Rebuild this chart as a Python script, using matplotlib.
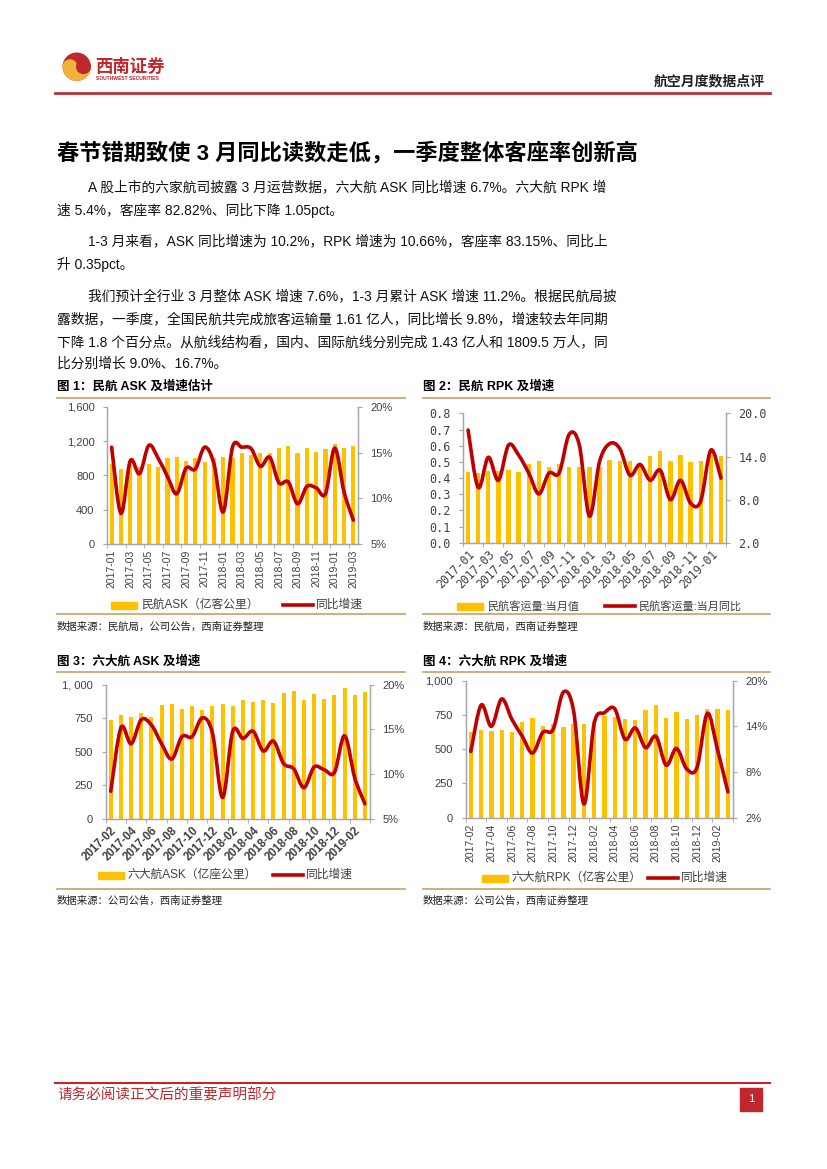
import matplotlib.pyplot as plt
import numpy as np
import pandas as pd
from matplotlib.path import Path
from matplotlib.patches import PathPatch, Rectangle, Circle, Wedge
from matplotlib.lines import Line2D

plt.rcParams['font.family'] = ['Liberation Sans', 'Noto Sans CJK SC']
CJK = ['Liberation Sans', 'Noto Sans CJK SC']
MONO = ['DejaVu Sans Mono', 'Noto Sans CJK SC']

# ---- data ----
months1 = list(pd.period_range('2017-01', '2019-03', freq='M').strftime('%Y-%m'))
ask1 = [931, 873, 935, 900, 931, 900, 1005, 1020, 974, 1005, 962, 1000, 1013, 1000,
        1059, 1040, 1059, 1060, 1121, 1140, 1067, 1117, 1071, 1106, 1172, 1117, 1140]
ask1_yoy = [15.6, 8.35, 14.1, 12.7, 15.8, 14.4, 12.4, 10.5, 13.3, 13.2, 15.6, 13.8, 8.5,
            15.6, 15.6, 15.45, 13.5, 14.5, 11.7, 11.8, 9.4, 11.3, 11.15, 10.5, 15.5, 10.7, 7.6]

months2 = list(pd.period_range('2017-01', '2019-02', freq='M').strftime('%Y-%m'))
rpk2 = [0.439, 0.429, 0.443, 0.443, 0.45, 0.437, 0.487, 0.505, 0.466, 0.487, 0.466, 0.466, 0.466,
        0.47, 0.515, 0.505, 0.503, 0.49, 0.538, 0.567, 0.505, 0.542, 0.501, 0.503, 0.545, 0.538]
rpk2_yoy = [17.7, 9.7, 13.9, 10.7, 15.6, 14.2, 11.7, 8.8, 11.7, 11.7, 17.1, 15.6, 5.7,
            13.3, 15.8, 15.1, 11.4, 12.9, 10.7, 12.1, 8.0, 10.7, 7.5, 7.8, 14.9, 11.0]

months3 = list(pd.period_range('2017-02', '2019-03', freq='M').strftime('%Y-%m'))
ask3 = [739, 776, 761, 789, 761, 848, 858, 818, 843, 808, 838, 856, 841,
        886, 873, 888, 866, 940, 953, 888, 933, 893, 925, 975, 925, 945]
ask3_yoy = [8.1, 15.2, 13.4, 16.1, 15.5, 13.4, 11.7, 14.2, 14.2, 16.3, 14.6, 7.4, 14.8,
            14.0, 14.8, 12.6, 13.7, 11.2, 10.6, 8.5, 10.8, 10.5, 10.2, 14.3, 9.6, 6.7]

rpk4 = [625, 637, 632, 640, 627, 701, 726, 667, 686, 662, 684, 686, 709,
        741, 735, 721, 716, 783, 820, 728, 770, 719, 746, 790, 790, 783]
rpk4_yoy = [10.7, 16.8, 14.0, 17.6, 14.9, 12.7, 10.5, 13.2, 13.6, 18.5, 16.0, 3.8, 14.4,
            15.8, 16.3, 12.3, 13.8, 11.2, 12.7, 8.9, 11.1, 8.4, 8.6, 15.7, 10.9, 5.4]

BAR = '#FFC000'
LINE = '#C00000'
GREY = '#A6A6A6'
TXT = '#404040'
RED = '#C0272D'
TAN = '#C9A063'

W, H = 827, 1169
fig = plt.figure(figsize=(W / 100, H / 100), dpi=100)


def box(x0, y0, x1, y1):
    return [x0 / W, 1 - y1 / H, (x1 - x0) / W, (y1 - y0) / H]


def fx(x):
    return x / W


def fy(y):
    return 1 - y / H


def hline(x0, x1, y, color, lw):
    fig.add_artist(Line2D([fx(x0), fx(x1)], [fy(y), fy(y)], color=color, lw=lw))


def smooth(ax, x, y, color, lw):
    # excel style smoothed line (catmull-rom as bezier)
    x = np.asarray(x, float)
    y = np.asarray(y, float)
    n = len(x)
    verts = [(x[0], y[0])]
    codes = [Path.MOVETO]
    for i in range(n - 1):
        a, b = max(i - 1, 0), min(i + 2, n - 1)
        c1 = (x[i] + (x[i + 1] - x[a]) / 6, y[i] + (y[i + 1] - y[a]) / 6)
        c2 = (x[i + 1] - (x[b] - x[i]) / 6, y[i + 1] - (y[b] - y[i]) / 6)
        verts += [c1, c2, (x[i + 1], y[i + 1])]
        codes += [Path.CURVE4] * 3
    ax.add_patch(PathPatch(Path(verts, codes), fill=False, edgecolor=color, lw=lw,
                           capstyle='round', joinstyle='round'))


def combo(rect, cats, bars, yoy, bw, ylim, yticks, ylabels, rlim, rticks, rlabels,
          rot, xfont, yfont, xsize, ysize, xweight='normal'):
    ax = fig.add_axes(box(*rect))
    n = len(cats)
    x = np.arange(n)
    ax.bar(x, bars, width=bw, color=BAR, zorder=2)
    ax.set_xlim(-0.5, n - 0.5)
    ax.set_ylim(*ylim)
    ax.set_yticks(yticks)
    ax.set_yticklabels(ylabels, family=yfont, fontsize=ysize, color=TXT)
    ax.set_xticks(x[::2])
    if rot == 90:
        ax.set_xticklabels(cats[::2], rotation=90, family=xfont, fontsize=xsize,
                           color=TXT, weight=xweight)
    else:
        ax.set_xticklabels(cats[::2], rotation=rot, ha='right', rotation_mode='anchor',
                           family=xfont, fontsize=xsize, color=TXT, weight=xweight)
    ax.set_xticks(np.arange(-0.5, n, 2), minor=True)
    ax.tick_params(axis='x', which='major', length=0, pad=4)
    ax.tick_params(axis='x', which='minor', length=3, color=GREY)
    ax.tick_params(axis='y', length=3, color=GREY, pad=6)
    ax2 = ax.twinx()
    smooth(ax2, x, yoy, LINE, 2.6)
    ax2.set_ylim(*rlim)
    ax2.set_yticks(rticks)
    ax2.set_yticklabels(rlabels, family=yfont, fontsize=ysize, color=TXT)
    ax2.tick_params(axis='y', length=3, color=GREY, pad=6)
    for a in (ax, ax2):
        a.spines['top'].set_visible(False)
        for s in ('left', 'right', 'bottom'):
            a.spines[s].set_color(GREY)
            a.spines[s].set_linewidth(0.9)
    return ax, ax2


def legend(y, bx, btext, lx, ltext, font, size):
    fig.add_artist(Rectangle((fx(bx), fy(y + 3.5)), 26 / W, 7 / H,
                             transform=fig.transFigure, color=BAR))
    fig.text(fx(bx + 30), fy(y), btext, family=font, fontsize=size, color=TXT, va='center')
    fig.add_artist(Line2D([fx(lx), fx(lx + 30)], [fy(y), fy(y)], color=LINE, lw=2.6))
    fig.text(fx(lx + 33), fy(y), ltext, family=font, fontsize=size, color=TXT, va='center')


# ---- header ----
lcx, lcy, lr = 0.767, (H - 66.7) / 100, 0.135
tr = fig.dpi_scale_trans
fig.add_artist(Circle((lcx, lcy), lr, transform=tr, color=RED))
fig.add_artist(Wedge((lcx, lcy), lr, 180, 360, transform=tr, color='#F2B33D'))
fig.add_artist(Circle((lcx - lr / 2, lcy), lr / 2, transform=tr, color='#F2B33D'))
fig.add_artist(Circle((lcx + lr / 2, lcy), lr / 2, transform=tr, color=RED))
fig.text(fx(95), fy(67), '西南证券', family=['Noto Sans CJK SC'], weight='bold',
         fontsize=12.5, color=RED, va='center')
fig.text(fx(96), fy(78.5), 'SOUTHWEST SECURITIES', fontsize=3.6, weight='bold',
         color=RED, va='center')
fig.text(fx(765), fy(81), '航空月度数据点评', family=['Noto Sans CJK SC'], weight='bold',
         fontsize=10, color='#222222', ha='right', va='center')
hline(55, 770, 93, '#B5323A', 2.0)

# ---- title and body ----
fig.text(fx(57), fy(153), '春节错期致使 3 月同比读数走低，一季度整体客座率创新高',
         family=CJK, weight='bold', fontsize=16, color='black', va='center')

body = [
    (88, 187, 'A 股上市的六家航司披露 3 月运营数据，六大航 ASK 同比增速 6.7%。六大航 RPK 增'),
    (57, 210, '速 5.4%，客座率 82.82%、同比下降 1.05pct。'),
    (88, 241, '1-3 月来看，ASK 同比增速为 10.2%，RPK 增速为 10.66%，客座率 83.15%、同比上'),
    (57, 264, '升 0.35pct。'),
    (88, 296, '我们预计全行业 3 月整体 ASK 增速 7.6%，1-3 月累计 ASK 增速 11.2%。根据民航局披'),
    (57, 319, '露数据，一季度，全国民航共完成旅客运输量 1.61 亿人，同比增长 9.8%，增速较去年同期'),
    (57, 342, '下降 1.8 个百分点。从航线结构看，国内、国际航线分别完成 1.43 亿人和 1809.5 万人，同'),
    (57, 364, '比分别增长 9.0%、16.7%。'),
]
for bx, by, line in body:
    fig.text(fx(bx), fy(by), line, family=CJK, fontsize=9.9, color='#111111', va='center')

# ---- figure captions ----
caps = [(57, 387, '图 1：民航 ASK 及增速估计'), (423, 387, '图 2：民航 RPK 及增速'),
        (57, 661, '图 3：六大航 ASK 及增速'), (423, 661, '图 4：六大航 RPK 及增速')]
for cx, cy, c in caps:
    fig.text(fx(cx), fy(cy), c, family=CJK, weight='bold', fontsize=9, color='black', va='center')
for y in (398, 614, 672, 889):
    hline(57, 405, y, TAN, 1.2)
    hline(423, 770, y, TAN, 1.2)
srcs = [(57, 627, '数据来源：民航局，公司公告，西南证券整理'), (423, 627, '数据来源：民航局，西南证券整理'),
        (57, 901, '数据来源：公司公告，西南证券整理'), (423, 901, '数据来源：公司公告，西南证券整理')]
for sx, sy, s in srcs:
    fig.text(fx(sx), fy(sy), s, family=CJK, fontsize=7.5, style='italic', color='#222222',
             va='center')

# ---- chart 1 ----
combo((107, 407, 358, 544), months1, ask1, ask1_yoy, 0.45, (0, 1600),
      [0, 400, 800, 1200, 1600], ['0', '400', '800', '1,200', '1,600'],
      (5, 20), [5, 10, 15, 20], ['5%', '10%', '15%', '20%'],
      90, CJK, CJK, 7.5, 8)
legend(605, 111, '民航ASK（亿客公里）', 283, '同比增速', CJK, 8.5)

# ---- chart 2 ----
combo((463, 413.5, 726, 542.7), months2, rpk2, rpk2_yoy, 0.43, (0, 0.8),
      np.arange(0, 0.81, 0.1), ['%.1f' % v for v in np.arange(0, 0.81, 0.1)],
      (2, 20), [2, 8, 14, 20], ['2.0', '8.0', '14.0', '20.0'],
      45, MONO, MONO, 8.3, 8.5)
legend(606, 457, '民航客运量:当月值', 605, '民航客运量:当月同比', CJK, 8)

# ---- chart 3 ----
combo((105.7, 684.7, 370, 819), months3, ask3, ask3_yoy, 0.4, (0, 1000),
      [0, 250, 500, 750, 1000], ['0', '250', '500', '750', '1, 000'],
      (5, 20), [5, 10, 15, 20], ['5%', '10%', '15%', '20%'],
      45, CJK, CJK, 8.3, 8, xweight='bold')
legend(875, 98, '六大航ASK（亿座公里）', 273, '同比增速', CJK, 8.5)

# ---- chart 4 ----
combo((465.7, 680.7, 733, 817.7), months3, rpk4, rpk4_yoy, 0.42, (0, 1000),
      [0, 250, 500, 750, 1000], ['0', '250', '500', '750', '1,000'],
      (2, 20), [2, 8, 14, 20], ['2%', '8%', '14%', '20%'],
      90, CJK, CJK, 7.5, 8)
legend(878, 482, '六大航RPK（亿客公里）', 648, '同比增速', CJK, 8.5)

# ---- footer ----
hline(55, 770, 1083, RED, 1.5)
fig.text(fx(57), fy(1095), '请务必阅读正文后的重要声明部分', family=CJK, fontsize=10.5,
         color=RED, va='center')
fig.add_artist(Rectangle((fx(740), fy(1111)), 22 / W, 23 / H, transform=fig.transFigure,
                         color=RED))
fig.text(fx(751), fy(1099.5), '1', fontsize=8, color='white', ha='center', va='center')

fig.savefig('out.png', dpi=100)
